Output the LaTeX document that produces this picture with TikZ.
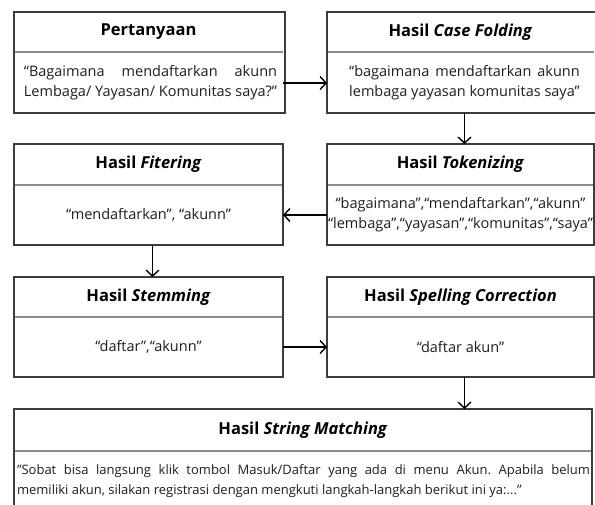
\documentclass[tikz,border=0pt]{standalone}
\usepackage{fontspec}
\setmainfont{Open Sans}
\frenchspacing
\usetikzlibrary{arrows.meta}

% first line spread out to the natural width of the second line
\newsavebox\lastlinebox
\newcommand\twojust[2]{\global\setbox\lastlinebox\hbox{#2}\makebox[\wd\lastlinebox][s]{#1}\\\usebox\lastlinebox}

\definecolor{framegray}{HTML}{3C3C3C}
\definecolor{rulegray}{HTML}{8C8C8C}
\definecolor{inkgray}{HTML}{1E1E1E}

\begin{document}
\begin{tikzpicture}[x=1pt,y=-1pt,
  hdr/.style={inner sep=0pt, outer sep=0pt, text=black,
    font=\fontsize{16.5}{20}\selectfont\bfseries},
  bdy/.style={inner sep=0pt, outer sep=0pt, align=center, text=inkgray,
    font=\fontsize{14.5}{20}\selectfont},
  small/.style={inner sep=0pt, outer sep=0pt, align=left, text=inkgray,
    font=\fontsize{13}{20}\selectfont},
  frame/.style={draw=framegray, line width=1.1pt},
  divider/.style={draw=rulegray, line width=1.4pt},
  conn/.style={draw=black, line width=1.4pt, -{Straight Barb[length=6pt,width=13pt]}}]

\useasboundingbox (0,0) rectangle (595,504);
\fill[white] (0,0) rectangle (595,504);

% left column
\node[hdr, minimum width=269pt, minimum height=40pt] (h1) at (148.5,32) {Pertanyaan};
\node[bdy, minimum width=269pt, minimum height=60pt] (b1) at (150.5,83)
  {\twojust{“Bagaimana mendaftarkan akunn}{Lembaga/ Yayasan/ Komunitas saya?”}};

\node[hdr, minimum width=269pt, minimum height=41pt] (h3) at (148.5,164.5) {Hasil \textit{Fitering}};
\node[bdy, minimum width=269pt, minimum height=60pt] (b3) at (148.5,215) {“mendaftarkan”, “akunn”};

\node[hdr, minimum width=269pt, minimum height=40pt] (h5) at (148.5,297) {Hasil \textit{Stemming}};
\node[bdy, minimum width=269pt, minimum height=60pt] (b5) at (148.5,347) {“daftar”,“akunn”};

% right column
\node[hdr, minimum width=267pt, minimum height=40pt] (h2) at (460.5,32) {Hasil \textit{Case Folding}};
\node[bdy, minimum width=267pt, minimum height=60pt] (b2) at (464.5,83)
  {\twojust{“bagaimana mendaftarkan akunn}{lembaga yayasan komunitas saya”}};

\node[hdr, minimum width=267pt, minimum height=41pt] (h4) at (460.5,164.5) {Hasil \textit{Tokenizing}};
\node[bdy, minimum width=267pt, minimum height=60pt] (b4) at (460.5,215)
  {“bagaimana”,“mendaftarkan”,“akunn”\\“lembaga”,“yayasan”,“komunitas”,“saya”};

\node[hdr, minimum width=267pt, minimum height=40pt] (h6) at (460.5,297) {Hasil \textit{Spelling Correction}};
\node[bdy, minimum width=267pt, minimum height=60pt] (b6) at (460.5,347) {“daftar akun”};

% full-width result box
\node[hdr, minimum width=578pt, minimum height=42pt] (h7) at (303,430) {Hasil \textit{String Matching}};
\node[bdy, minimum width=578pt, minimum height=62pt] (b7) at (303,482) {};
\node[small, anchor=west] (t7) at (17,481)
  {\makebox[573pt][s]{"Sobat bisa langsung klik tombol Masuk/Daftar yang ada di menu Akun. Apabila belum}\\
   memiliki akun, silakan registrasi dengan mengkuti langkah-langkah berikut ini ya:..."};

% frames and header rules
\foreach \i in {1,...,7}{
  \draw[divider] (h\i.south west) -- (h\i.south east);
  \draw[frame] (h\i.north west) rectangle (b\i.south east);
}

% flow
\coordinate (d2) at ([xshift=4pt]h2.south |- b2.south);
\coordinate (d3) at ([xshift=4pt]h3.south |- b3.south);
\coordinate (d6) at ([xshift=4pt]h6.south |- b6.south);
\draw[conn] (b1.east -| h1.east) -- (b2.west -| h2.west);
\draw[conn] (d2) -- (d2 |- h4.north);
\draw[conn] (b4.west) -- (b3.east);
\draw[conn] (d3) -- (d3 |- h5.north);
\draw[conn] (b5.east) -- (b6.west);
\draw[conn] (d6) -- (d6 |- h7.north);
\end{tikzpicture}
\end{document}
